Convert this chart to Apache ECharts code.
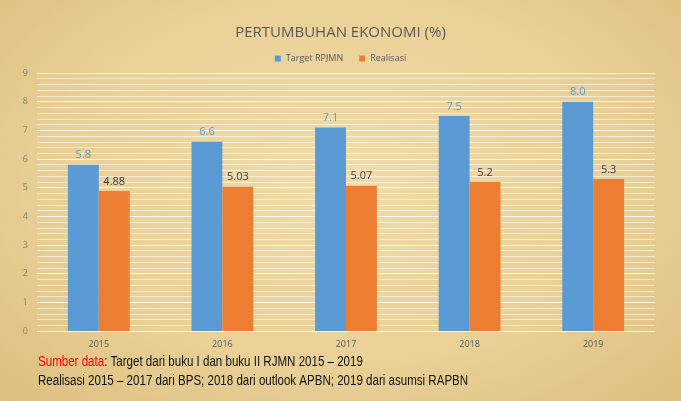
<!DOCTYPE html>
<html><head><meta charset="utf-8">
<script src="https://cdn.jsdelivr.net/npm/echarts@6/dist/echarts.min.js"></script>
<style>html,body{margin:0;padding:0;}#c{width:681px;height:401px;background:radial-gradient(ellipse at 50% 45%, #f1dca8 0%, #e9d096 60%, #dcbd7e 100%);}</style>
</head><body><div id="c"></div>
<script>
const categories = ['2015','2016','2017','2018','2019'];
const targetValues = [5.8, 6.6, 7.1, 7.5, 8.0];
const realisasiValues = [4.88, 5.03, 5.07, 5.2, 5.3];
const seriesNames = ['Target RPJMN', 'Realisasi'];
const titleText = 'PERTUMBUHAN EKONOMI (%)';
const yTicks = {min: 0, max: 9, interval: 1};

const chart = echarts.init(document.getElementById('c'), null, {renderer: 'canvas'});
chart.setOption({
  backgroundColor: 'transparent',
  title: {text: titleText, left: 'center', top: 20, textStyle: {fontFamily: 'Open Sans', fontWeight: 'normal', fontSize: 15, color: '#595959'}},
  legend: {top: 49, left: 'center', itemWidth: 6, itemHeight: 6, itemGap: 16, icon: 'rect',
    textStyle: {fontFamily: 'Open Sans', fontSize: 9, color: '#595959'}},
  grid: {left: 37, right: 26, top: 73, bottom: 70},
  xAxis: {type: 'category', data: categories,
    axisLine: {show: false}, axisTick: {show: false},
    axisLabel: {fontFamily: 'Open Sans', fontSize: 9, color: '#595959', margin: 9}},
  yAxis: {type: 'value', min: yTicks.min, max: yTicks.max, interval: yTicks.interval,
    axisLabel: {fontFamily: 'Open Sans', fontSize: 9, color: '#7f7f7f', margin: 9, align: 'right'},
    splitLine: {lineStyle: {color: 'rgba(255,255,255,0.85)', width: 1}},
    minorTick: {show: false, splitNumber: 5},
    minorSplitLine: {show: true, lineStyle: {color: 'rgba(255,255,255,0.55)', width: 1}}},
  series: [
    {name: seriesNames[0], type: 'bar', data: targetValues, barGap: '0%', barCategoryGap: '50%',
      itemStyle: {color: '#5b9bd5'},
      label: {show: true, position: 'top', distance: 4, fontFamily: 'Open Sans', fontSize: 11, color: '#5b9bd5',
        formatter: p => p.value.toFixed(1)}},
    {name: seriesNames[1], type: 'bar', data: realisasiValues,
      itemStyle: {color: '#ed7d31'},
      label: {show: true, position: 'top', distance: 4, fontFamily: 'Open Sans', fontSize: 11, color: '#404040',
        formatter: p => String(p.value)}}
  ],
  graphic: [
    {type: 'text', x: 38, y: 355, scaleX: 0.825, style: {
      text: '{r|Sumber data}{k|: Target dari buku I dan buku II RJMN 2015 – 2019}',
      rich: {r: {fill: '#ff0000', fontFamily: 'Liberation Sans', fontSize: 14},
             k: {fill: '#111', fontFamily: 'Liberation Sans', fontSize: 14}}}},
    {type: 'text', x: 38, y: 374, scaleX: 0.825, style: {
      text: 'Realisasi 2015 – 2017 dari BPS; 2018 dari outlook APBN; 2019 dari asumsi RAPBN',
      fill: '#111', fontFamily: 'Liberation Sans', fontSize: 14}}
  ]
});
</script></body></html>
